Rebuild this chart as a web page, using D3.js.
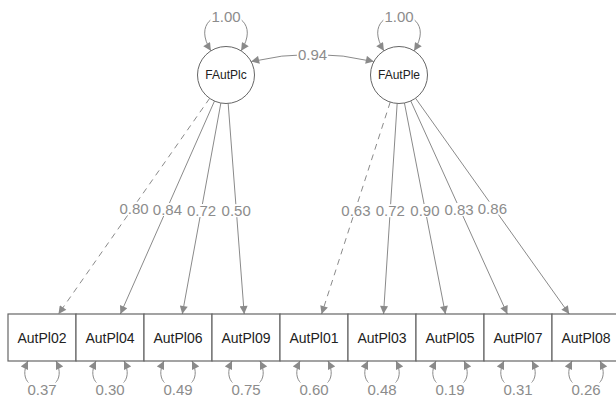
<!DOCTYPE html>
<html lang="en">
<head>
<meta charset="UTF-8">
<title>SEM path diagram</title>
<script src="https://d3js.org/d3.v7.min.js"></script>
<style>
  body { margin: 0; background: #fff; }
  svg { display: block; font-family: "Liberation Sans", Arial, sans-serif; }
</style>
</head>
<body>
<svg width="616" height="401"></svg>
<script>
// ---- data ----
var factors = ["FAutPlc", "FAutPle"];
var factorVar = [1.00, 1.00];
var factorCov = 0.94;
var indicators = ["AutPl02", "AutPl04", "AutPl06", "AutPl09", "AutPl01", "AutPl03", "AutPl05", "AutPl07", "AutPl08"];
var indFactor = ["FAutPlc", "FAutPlc", "FAutPlc", "FAutPlc", "FAutPle", "FAutPle", "FAutPle", "FAutPle", "FAutPle"];
var loadings = [0.80, 0.84, 0.72, 0.50, 0.63, 0.72, 0.90, 0.83, 0.86];
var fixedFirst = [true, false, false, false, true, false, false, false, false];
var residuals = [0.37, 0.30, 0.49, 0.75, 0.60, 0.48, 0.19, 0.31, 0.26];

var svg = d3.select("svg");
var edgeCol = "#8a8a8a", labCol = "#8c8c8c";
var fmt = d3.format(".2f");

var x = d3.scaleBand().domain(indicators).range([8, 620]).padding(0);
var fx = d3.scalePoint().domain(factors).range([226, 399]);
var fy = 75, r = 28.5;
var boxTop = 314, boxH = 47;

// arrow marker
svg.append("defs").append("marker")
  .attr("id", "arr")
  .attr("viewBox", "0 0 10 10")
  .attr("refX", 10).attr("refY", 5)
  .attr("markerWidth", 10).attr("markerHeight", 8)
  .attr("markerUnits", "userSpaceOnUse")
  .attr("orient", "auto-start-reverse")
  .append("path").attr("d", "M0,0L10,5L0,10z").attr("fill", edgeCol);

function label(g, cx, cy, txt) {
  var t = g.append("text").attr("x", cx).attr("y", cy)
    .attr("text-anchor", "middle").attr("dominant-baseline", "central")
    .attr("font-size", 15).attr("fill", labCol).text(txt);
  var b = t.node().getBBox();
  g.insert("rect", function() { return t.node(); })
    .attr("x", b.x - 1).attr("y", b.y + 2).attr("width", b.width + 2).attr("height", b.height - 4)
    .attr("fill", "#fff");
}

var gEdges = svg.append("g");
var gLab = svg.append("g");

// loadings
indicators.forEach(function(d, i) {
  var sx = fx(indFactor[i]);
  var bx = x(d) + x.bandwidth() / 2, by = boxTop + boxH / 2;
  var dx = bx - sx, dy = by - fy, len = Math.sqrt(dx * dx + dy * dy);
  var x1 = sx + r * dx / len, y1 = fy + r * dy / len;
  var t = (boxTop - fy) / dy;
  var x2 = sx + t * dx, y2 = boxTop;
  gEdges.append("line")
    .attr("x1", x1).attr("y1", y1).attr("x2", x2).attr("y2", y2)
    .attr("stroke", edgeCol).attr("stroke-width", 1)
    .attr("stroke-dasharray", fixedFirst[i] ? "6,5" : null)
    .attr("marker-end", "url(#arr)");
  label(gLab, (x1 + x2) / 2, (y1 + y2) / 2 + 2, fmt(loadings[i]));
});

// covariance between factors
(function() {
  var a = -28 * Math.PI / 180;
  var x1 = fx(factors[0]) + r * Math.cos(a), y1 = fy + r * Math.sin(a);
  var x2 = fx(factors[1]) - r * Math.cos(a), y2 = y1;
  var cx = (x1 + x2) / 2, cy = 47;
  gEdges.append("path")
    .attr("d", "M" + x1 + "," + y1 + "Q" + cx + "," + cy + " " + x2 + "," + y2)
    .attr("fill", "none").attr("stroke", edgeCol)
    .attr("marker-start", "url(#arr)").attr("marker-end", "url(#arr)");
  label(gLab, cx, (y1 + 2 * cy + y2) / 4, fmt(factorCov));
})();

// factor variances (self loops on top)
factors.forEach(function(f, i) {
  var cx = fx(f), a = 32 * Math.PI / 180;
  var x1 = cx - r * Math.sin(a), y1 = fy - r * Math.cos(a);
  var x2 = cx + r * Math.sin(a), y2 = y1;
  gEdges.append("path")
    .attr("d", "M" + x1 + "," + y1 + "C" + (x1 - 30) + "," + (y1 - 48) + " " + (x2 + 30) + "," + (y2 - 48) + " " + x2 + "," + y2)
    .attr("fill", "none").attr("stroke", edgeCol)
    .attr("marker-start", "url(#arr)").attr("marker-end", "url(#arr)");
  label(gLab, cx, 16, fmt(factorVar[i]));
});

// residual loops below boxes
indicators.forEach(function(d, i) {
  var cx = x(d) + x.bandwidth() / 2, y0 = boxTop + boxH;
  var x1 = cx - 14, x2 = cx + 14;
  gEdges.append("path")
    .attr("d", "M" + x1 + "," + y0 + "C" + (x1 - 18) + "," + (y0 + 36) + " " + (x2 + 18) + "," + (y0 + 36) + " " + x2 + "," + y0)
    .attr("fill", "none").attr("stroke", edgeCol)
    .attr("marker-start", "url(#arr)").attr("marker-end", "url(#arr)");
  label(gLab, cx, 389, fmt(residuals[i]));
});

// latent nodes
var gF = svg.append("g").selectAll("g").data(factors).join("g");
gF.append("circle").attr("cx", function(d) { return fx(d); }).attr("cy", fy).attr("r", r)
  .attr("fill", "#fff").attr("stroke", "#666").attr("stroke-width", 1);
gF.append("text").attr("x", function(d) { return fx(d); }).attr("y", fy)
  .attr("text-anchor", "middle").attr("dominant-baseline", "central")
  .attr("font-size", 12).attr("fill", "#222").text(function(d) { return d; });

// manifest nodes
var gB = svg.append("g").selectAll("g").data(indicators).join("g");
gB.append("rect").attr("x", function(d) { return x(d); }).attr("y", boxTop)
  .attr("width", x.bandwidth()).attr("height", boxH)
  .attr("fill", "#fff").attr("stroke", "#666").attr("stroke-width", 1.2);
gB.append("text").attr("x", function(d) { return x(d) + x.bandwidth() / 2; }).attr("y", boxTop + boxH / 2)
  .attr("text-anchor", "middle").attr("dominant-baseline", "central")
  .attr("font-size", 14).attr("fill", "#222").text(function(d) { return d; });
</script>
</body>
</html>
